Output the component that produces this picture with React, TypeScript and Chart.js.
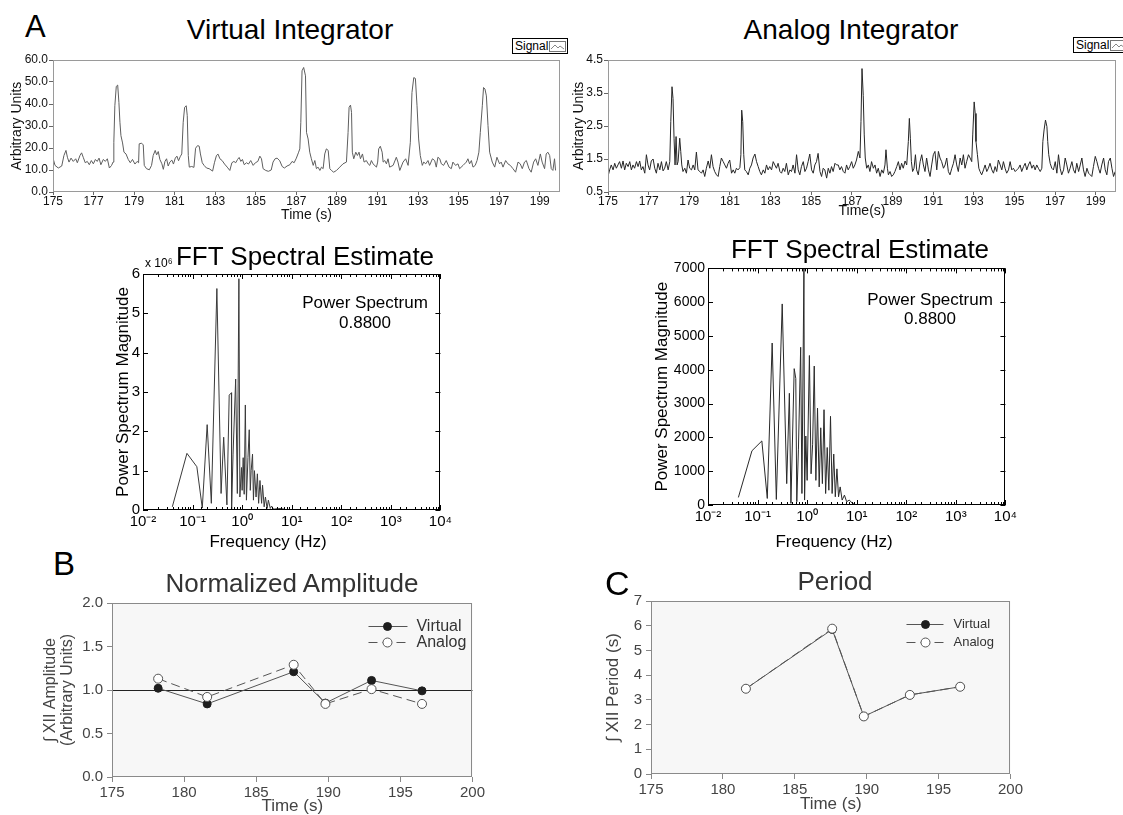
import React, { useEffect, useRef } from "react";
import { Chart, registerables } from "chart.js";
Chart.register(...registerables);

const SANS = '"Liberation Sans", Arial, Helvetica, sans-serif';
const NARROW = '"Liberation Sans Narrow", "Liberation Sans", Arial, sans-serif';
Chart.defaults.font.family = SANS;

// ---------------- DATA ----------------
const traceTicks = [175, 177, 179, 181, 183, 185, 187, 189, 191, 193, 195, 197, 199];

const virtualTime = [175.00,175.10,175.26,175.43,175.54,175.64,175.71,175.79,175.89,176.00,176.12,176.20,176.33,176.41,176.49,176.59,176.69,176.79,176.89,176.99,177.09,177.18,177.27,177.36,177.48,177.58,177.68,177.78,177.89,177.96,178.00,178.05,178.12,178.19,178.25,178.30,178.35,178.43,178.50,178.60,178.71,178.81,178.92,179.04,179.15,179.22,179.25,179.37,179.45,179.50,179.61,179.75,179.86,179.94,180.04,180.11,180.19,180.27,180.37,180.44,180.52,180.60,180.68,180.76,180.86,180.94,181.03,181.11,181.19,181.27,181.35,181.42,181.49,181.57,181.62,181.67,181.72,181.84,181.95,182.03,182.13,182.21,182.27,182.36,182.45,182.57,182.70,182.87,182.96,183.06,183.14,183.23,183.34,183.46,183.59,183.72,183.82,183.92,184.01,184.10,184.18,184.26,184.34,184.43,184.54,184.64,184.75,184.87,184.98,185.10,185.20,185.28,185.36,185.49,185.62,185.76,185.85,185.95,186.05,186.18,186.30,186.41,186.54,186.68,186.79,186.89,187.00,187.10,187.17,187.22,187.28,187.36,
187.45,187.50,187.58,187.66,187.74,187.83,187.91,187.99,188.07,188.16,188.24,188.32,188.40,188.48,188.57,188.65,188.73,188.84,188.98,189.14,189.30,189.47,189.55,189.60,189.67,189.72,189.76,189.83,189.93,190.01,190.09,190.16,190.26,190.34,190.45,190.54,190.62,190.70,190.78,190.95,191.01,191.06,191.14,191.23,191.28,191.36,191.44,191.52,191.60,191.77,191.93,192.01,192.10,192.26,192.39,192.51,192.62,192.70,192.79,192.87,192.95,193.03,193.11,193.21,193.28,193.38,193.49,193.57,193.71,193.82,193.90,193.98,194.07,194.15,194.26,194.39,194.53,194.64,194.72,194.85,194.97,195.05,195.22,195.38,195.46,195.54,195.63,195.71,195.82,195.91,196.00,196.07,196.17,196.23,196.30,196.37,196.45,196.53,196.66,196.78,196.89,197.02,197.10,197.19,197.32,197.43,197.55,197.68,197.81,197.93,198.04,198.14,198.25,198.34,198.47,198.58,198.70,198.80,198.91,199.03,199.12,199.24,199.32,199.40,199.49,199.57,199.65,199.73,199.78];
const virtualSignal = [15.4,12.1,10.9,11.8,16.6,18.9,15.8,13.6,15.4,13.9,15.1,13.3,16.6,17.8,15.8,13.3,13.9,12.4,14.3,12.8,14.8,13.9,15.4,12.4,14.8,13.9,15.1,10.9,12.1,13.6,22.6,39.2,48.0,48.6,40.7,31.7,25.6,22.3,18.1,17.3,14.8,13.3,14.8,12.7,13.9,13.3,21.9,22.2,21.4,12.1,10.6,10.1,12.1,16.6,18.9,16.9,18.4,14.8,12.8,10.3,13.9,15.1,11.8,13.6,14.5,12.7,15.4,16.3,14.2,16.0,17.3,31.7,38.5,39.2,34.7,16.6,11.3,11.6,11.2,19.9,21.1,20.8,17.3,13.3,12.1,10.9,10.6,9.5,13.3,16.6,17.2,15.1,14.3,12.7,11.3,9.8,13.3,13.9,13.3,14.8,15.7,13.9,14.8,12.4,13.3,12.7,14.3,12.1,13.3,13.9,16.3,15.1,10.6,9.8,9.4,10.0,13.6,15.1,15.4,14.2,11.6,10.9,11.8,12.4,13.9,13.3,15.4,17.8,19.6,31.7,55.1,56.6,
52.8,27.1,24.1,18.1,15.1,12.1,14.3,10.6,11.3,9.8,11.3,10.6,17.3,19.6,18.9,10.6,9.8,9.0,9.8,11.3,12.8,13.6,27.1,38.5,39.5,36.2,18.1,15.1,18.1,16.6,18.1,15.1,17.3,13.6,14.3,12.8,12.1,14.3,12.8,11.3,13.6,19.6,20.8,18.1,13.6,14.3,12.8,15.1,11.3,12.1,15.8,13.6,9.8,13.6,15.1,12.1,22.6,45.2,52.0,51.6,39.2,24.1,16.6,12.1,13.6,12.8,14.3,12.1,15.1,14.3,11.3,15.8,15.1,12.8,12.1,14.3,11.3,10.6,13.6,12.1,12.8,10.6,12.1,13.6,15.1,12.8,14.3,11.3,12.1,14.3,18.1,27.1,39.2,47.5,46.8,43.7,30.2,18.1,13.6,11.3,15.8,12.8,13.6,11.3,14.3,12.8,12.1,10.6,9.0,13.6,12.8,10.6,13.6,14.3,10.6,9.0,13.6,15.1,12.1,17.3,13.6,10.6,17.3,18.1,16.6,10.6,9.8,15.1,9.8];

const analogTime = [175.00,175.08,175.16,175.25,175.33,175.41,175.49,175.57,175.66,175.74,
175.82,175.90,175.99,176.07,176.15,176.23,176.31,176.40,176.48,176.56,
176.64,176.72,176.81,176.89,176.97,177.05,177.13,177.22,177.30,177.38,
177.46,177.55,177.63,177.71,177.79,177.87,177.96,178.04,178.09,178.15,
178.20,178.25,178.30,178.35,178.40,178.45,178.53,178.58,178.63,178.69,
178.78,178.86,178.94,179.02,179.11,179.19,179.27,179.35,179.43,179.52,
179.60,179.68,179.76,179.84,179.93,180.01,180.09,180.17,180.25,180.34,
180.42,180.50,180.58,180.67,180.75,180.83,180.91,180.99,181.08,181.16,
181.24,181.32,181.40,181.49,181.54,181.58,181.63,181.68,181.73,181.81,
181.90,181.98,182.06,182.14,182.23,182.31,182.39,182.47,182.55,182.64,
182.72,182.80,182.88,182.96,183.05,183.13,183.21,183.29,183.37,183.46,
183.54,183.62,183.70,183.78,183.87,183.95,184.03,184.11,184.20,184.28,
184.36,184.44,184.52,184.61,184.69,184.77,184.85,184.93,185.02,185.10,
185.18,185.26,185.34,185.43,185.51,185.59,185.67,185.76,185.84,185.92,
186.00,186.08,186.17,186.25,186.33,186.41,186.49,186.58,186.66,186.74,
186.82,186.90,186.99,187.07,187.15,187.23,187.32,187.40,187.45,187.50,
187.56,187.61,187.66,187.73,187.81,187.89,187.97,188.06,188.14,188.22,
188.30,188.39,188.47,188.55,188.63,188.68,188.75,188.80,188.88,188.96,
189.04,189.12,189.21,189.29,189.37,189.45,189.53,189.62,189.70,189.78,
189.83,189.88,189.93,189.99,190.06,190.13,190.19,190.27,190.36,190.44,
190.52,190.60,190.68,190.77,190.85,190.93,191.01,191.09,191.18,191.26,
191.34,191.42,191.51,191.59,191.67,191.75,191.83,191.92,192.00,192.08,
192.16,192.24,192.33,192.41,192.49,192.57,192.65,192.74,192.82,192.90,
192.95,193.02,193.07,193.11,193.18,193.25,193.31,193.39,193.48,193.56,
193.64,193.72,193.80,193.89,193.97,194.05,194.13,194.21,194.30,194.38,
194.46,194.54,194.62,194.71,194.79,194.87,194.95,195.04,195.12,195.20,
195.28,195.36,195.45,195.53,195.61,195.69,195.77,195.86,195.94,196.02,
196.10,196.18,196.27,196.35,196.40,196.46,196.53,196.60,196.64,196.69,
196.76,196.84,196.92,197.01,197.09,197.17,197.25,197.33,197.42,197.50,
197.58,197.66,197.74,197.83,197.91,197.99,198.07,198.16,198.24,198.32,
198.40,198.48,198.57,198.65,198.73,198.81,198.89,198.98,199.06,199.14,
199.22,199.30,199.39,199.47,199.55,199.63,199.72,199.80,199.88,199.96];
const analogSignal = [0.97,1.17,1.32,1.17,1.37,1.22,1.32,1.42,1.22,1.44,
1.17,1.37,1.27,1.42,1.17,1.32,1.22,1.42,1.27,1.44,
1.17,1.27,1.07,1.63,1.32,1.17,1.44,1.50,1.22,1.07,
1.37,1.17,1.42,1.14,1.22,1.42,1.17,1.42,2.63,3.69,
3.33,2.13,1.32,2.18,1.32,1.42,2.13,1.73,1.32,1.12,
1.22,1.07,1.47,1.22,1.17,1.32,1.17,1.71,1.17,1.12,
1.07,1.17,0.97,1.22,1.44,1.22,1.63,1.27,1.12,1.02,
0.97,1.27,1.53,1.42,1.32,1.22,1.37,1.47,1.07,1.17,
1.07,1.22,1.17,1.24,1.63,2.98,2.63,1.63,1.17,1.12,
1.02,1.22,1.32,1.53,1.65,1.42,1.27,1.12,1.02,1.17,
1.07,1.32,1.17,1.27,1.17,1.42,1.32,1.22,1.37,1.12,
1.07,1.22,1.12,1.37,1.02,1.17,1.12,1.32,1.07,1.63,
1.17,1.02,1.27,1.42,1.12,1.22,1.42,1.65,1.17,1.07,
1.32,1.42,1.67,1.12,0.97,1.22,1.17,0.92,1.22,1.07,
1.27,1.12,1.37,1.32,1.32,1.17,1.27,1.12,1.07,1.32,
1.17,1.27,1.42,1.22,1.32,1.47,1.73,1.53,2.63,4.24,
3.43,2.23,1.53,1.22,1.32,1.12,1.42,1.22,1.32,1.07,
1.22,0.97,1.17,1.07,1.32,1.78,1.22,1.02,1.12,0.97,
1.02,1.12,1.27,1.42,1.17,1.37,1.22,1.44,1.32,2.03,
2.73,2.13,1.42,1.12,1.22,1.63,1.17,1.02,1.42,1.63,
1.32,1.12,1.53,1.17,0.97,1.32,1.63,1.73,1.17,1.73,
1.53,1.42,1.22,1.32,1.53,1.12,1.02,1.22,1.37,1.63,
1.32,1.12,1.53,1.32,1.63,1.22,1.42,1.63,1.53,1.42,
2.23,3.23,2.88,2.03,1.63,1.22,1.12,1.02,1.17,1.32,
1.12,1.22,1.37,1.17,1.07,1.27,1.12,1.47,1.32,1.17,
1.42,1.22,1.07,1.17,1.42,1.17,1.22,1.12,1.17,1.22,
1.32,1.12,1.27,1.37,1.17,1.32,1.42,1.22,1.32,1.17,
1.32,1.22,1.12,1.22,2.03,2.38,2.68,2.48,2.03,1.63,
1.37,1.22,1.17,1.42,1.07,1.63,1.22,1.02,1.17,1.53,
1.32,1.07,1.22,1.42,1.17,1.07,1.37,1.12,1.32,1.53,
1.17,0.97,1.22,1.07,1.02,0.97,1.27,1.58,1.42,1.22,
1.07,1.32,1.53,1.17,1.02,1.42,1.53,1.22,0.97,1.12];

// FFT spectra (frequency in Hz)
const virtualSpectrumFreq = [0.039,0.077,0.122,0.157,0.197,0.239,0.309,0.376,0.424,0.493,0.548,0.608,0.612,0.656,0.74,0.80,0.86,0.90,0.97,1.00,1.05,1.10,1.16,1.22,1.31,1.39,1.46,1.52,1.62,1.69,1.77,1.91,2.03,2.15,2.29,2.47,2.58,2.78,2.95,3.19,3.38,3.70,3.93,4.30,5.50,6.60,7.60,10.3];
const virtualSpectrumMag = [0.08,1.44,1.10,0.05,2.17,0.17,5.63,0.42,1.85,0.13,2.92,2.98,0.02,1.42,3.33,0.42,5.88,0.33,1.08,0.50,1.33,0.40,2.67,0.25,1.33,2.04,0.50,1.00,1.42,0.25,1.00,0.33,0.92,0.17,0.75,0.17,0.63,0.08,0.33,0.04,0.25,0.04,0.10,0.02,0.04,0.03,0.01,0.00]; // x 10^6
const analogSpectrumFreq = [0.041,0.077,0.122,0.157,0.197,0.239,0.314,0.387,0.438,0.471,0.548,0.59,0.618,0.667,0.74,0.785,0.861,0.887,0.94,1.0,1.11,1.2,1.29,1.39,1.5,1.62,1.75,1.88,2.03,2.19,2.36,2.54,2.74,2.96,3.19,3.44,3.7,3.99,4.3,4.64,5.08,5.65,6.27,7.08,8.23,9.55];
const analogSpectrumMag = [224,1604,1895,194,4792,165,5949,632,3305,49,4034,3742,97,1652,4666,340,7000,146,2041,729,4423,923,1798,4111,729,2867,535,2284,632,2819,340,1701,437,2624,340,1507,243,1069,243,535,146,292,97,146,49,0];

// B: normalized amplitude
const amplitudeTime = [178.2, 181.6, 187.6, 189.8, 193.0, 196.5];
const amplitudeVirtual = [1.02, 0.84, 1.21, 0.85, 1.11, 0.99];
const amplitudeAnalog = [1.13, 0.92, 1.29, 0.84, 1.01, 0.84];
const amplitudeReference = 1.0;

// C: period
const periodTime = [181.6, 187.6, 189.8, 193.0, 196.5];
const periodVirtual = [3.45, 5.85, 2.33, 3.20, 3.53];
const periodAnalog = [3.45, 5.88, 2.33, 3.20, 3.53];

// ---------------- helpers ----------------
const SUP: Record<string, string> = { "-": "⁻", "0": "⁰", "1": "¹", "2": "²", "3": "³", "4": "⁴", "5": "⁵", "6": "⁶", "7": "⁷", "8": "⁸", "9": "⁹" };
const pow10Label = (v: number) => {
  const l = Math.log10(v);
  const r = Math.round(l);
  if (Math.abs(l - r) > 1e-6) return "";
  return "10" + String(r).split("").map((c) => SUP[c]).join("");
};
const pts = (xs: number[], ys: number[]) => xs.map((x, i) => ({ x, y: ys[i] }));

const panelPlugin = {
  id: "panel",
  beforeDatasetsDraw(chart: any, _a: any, o: any) {
    const { ctx, chartArea: a } = chart;
    ctx.save();
    if (o.background) {
      ctx.fillStyle = o.background;
      ctx.fillRect(a.left, a.top, a.right - a.left, a.bottom - a.top);
    }
    if (o.refValue !== undefined && o.refValue !== null) {
      const y = Math.round(chart.scales.y.getPixelForValue(o.refValue)) + 0.5;
      ctx.strokeStyle = o.refColor || "#000";
      ctx.lineWidth = 1;
      ctx.beginPath();
      ctx.moveTo(a.left, y);
      ctx.lineTo(a.right, y);
      ctx.stroke();
    }
    ctx.restore();
  },
  afterDatasetsDraw(chart: any, _a: any, o: any) {
    const { ctx, chartArea: a } = chart;
    ctx.save();
    ctx.lineWidth = 1;
    if (o.innerTicks) {
      const xs = chart.scales.x;
      const ys = chart.scales.y;
      ctx.strokeStyle = o.frameColor;
      ctx.beginPath();
      for (const t of xs.ticks) {
        const p = Math.round(xs.getPixelForValue(t.value)) + 0.5;
        const l = pow10Label(t.value) ? 5 : 3;
        ctx.moveTo(p, a.bottom);
        ctx.lineTo(p, a.bottom - l);
        ctx.moveTo(p, a.top);
        ctx.lineTo(p, a.top + l);
      }
      for (const t of ys.ticks) {
        const p = Math.round(ys.getPixelForValue(t.value)) + 0.5;
        ctx.moveTo(a.left, p);
        ctx.lineTo(a.left + 5, p);
        ctx.moveTo(a.right, p);
        ctx.lineTo(a.right - 5, p);
      }
      ctx.stroke();
    }
    if (o.frameColor) {
      ctx.strokeStyle = o.frameColor;
      ctx.strokeRect(Math.round(a.left) + 0.5, Math.round(a.top) + 0.5, Math.round(a.right - a.left) - 1, Math.round(a.bottom - a.top) - 1);
    }
    if (o.legend) {
      const lg = o.legend;
      ctx.font = `${lg.size}px ${SANS}`;
      ctx.textBaseline = "middle";
      ctx.textAlign = "left";
      chart.data.datasets.forEach((ds: any, i: number) => {
        const y = Math.round(a.top + lg.rows[i]) + 0.5;
        ctx.strokeStyle = ds.borderColor;
        ctx.setLineDash(ds.borderDash || []);
        ctx.beginPath();
        ctx.moveTo(a.right - lg.x1, y);
        ctx.lineTo(a.right - lg.x2, y);
        ctx.stroke();
        ctx.setLineDash([]);
        ctx.beginPath();
        ctx.arc(a.right - lg.mx, y, ds.pointRadius, 0, Math.PI * 2);
        ctx.fillStyle = ds.pointBackgroundColor;
        ctx.fill();
        ctx.strokeStyle = ds.pointBorderColor;
        ctx.stroke();
        ctx.fillStyle = lg.color;
        ctx.fillText(ds.label, a.right - lg.tx, y);
      });
    }
    ctx.restore();
  },
};

const common = (padding: any, panel: any) => ({
  responsive: false,
  maintainAspectRatio: false,
  animation: false,
  events: [],
  layout: { padding },
  plugins: { legend: { display: false }, tooltip: { enabled: false }, panel },
});

// ---------------- chart configs ----------------
function traceConfig(kind: "virtual" | "analog") {
  const isV = kind === "virtual";
  const data = isV ? pts(virtualTime, virtualSignal) : pts(analogTime, analogSignal);
  return {
    type: "line",
    data: {
      datasets: [
        { label: "Signal", data, borderColor: isV ? "#5e5e5e" : "#262626", borderWidth: 1, pointRadius: 0, tension: 0 },
      ],
    },
    options: {
      ...common({ left: 9, top: 10, right: 4, bottom: 0 }, { frameColor: "#9a9a9a" }),
      scales: {
        x: {
          type: "linear",
          min: 175,
          max: 200,
          afterBuildTicks: (s: any) => {
            s.ticks = traceTicks.map((v) => ({ value: v }));
          },
          afterFit: (s: any) => {
            s.height = isV ? 32 : 28;
          },
          grid: { drawOnChartArea: false, tickLength: 3, color: "#666" },
          border: { display: false },
          ticks: { font: { family: NARROW, size: 12 }, color: "#111", padding: -1, maxRotation: 0, autoSkip: false },
          title: { display: true, text: isV ? "Time (s)" : "Time(s)", font: { family: NARROW, size: 14 }, color: "#111", padding: 0 },
        },
        y: {
          type: "linear",
          min: isV ? 0 : 0.5,
          max: isV ? 60 : 4.5,
          afterFit: (s: any) => {
            s.width = isV ? 44 : 37;
          },
          grid: { drawOnChartArea: false, tickLength: 4, color: "#666" },
          border: { display: false },
          ticks: {
            stepSize: isV ? 10 : 0.5,
            padding: 1,
            font: { family: NARROW, size: 12 },
            color: "#111",
            callback: (v: any) => {
              const n = Number(v);
              if (isV) return n.toFixed(1);
              return Math.abs((n - 0.5) % 1) < 1e-6 ? n.toFixed(1) : "";
            },
          },
          title: { display: true, text: "Arbitrary Units", font: { family: NARROW, size: 14 }, color: "#111", padding: 0 },
        },
      },
    },
    plugins: [panelPlugin],
  };
}

function spectrumConfig(kind: "virtual" | "analog") {
  const isV = kind === "virtual";
  const data = isV ? pts(virtualSpectrumFreq, virtualSpectrumMag) : pts(analogSpectrumFreq, analogSpectrumMag);
  return {
    type: "line",
    data: {
      datasets: [{ label: "Power Spectrum", data, borderColor: isV ? "#3a3a3a" : "#2a2a2a", borderWidth: 1, pointRadius: 0, tension: 0 }],
    },
    options: {
      ...common(isV ? { left: 13, top: 8, right: 6, bottom: 0 } : { left: 7, top: 8, right: 6, bottom: 0 }, { frameColor: "#000", innerTicks: true }),
      scales: {
        x: {
          type: "logarithmic",
          min: 0.01,
          max: 10000,
          afterFit: (s: any) => {
            s.height = 30;
          },
          grid: { display: false, drawTicks: false },
          border: { display: false },
          ticks: { callback: (v: any) => pow10Label(Number(v)), autoSkip: false, maxRotation: 0, minRotation: 0, padding: 3, font: { size: 15 }, color: "#000" },
        },
        y: {
          type: "linear",
          min: 0,
          max: isV ? 6 : 7000,
          afterFit: (s: any) => {
            s.width = isV ? 30 : 56;
          },
          grid: { display: false, drawTicks: false },
          border: { display: false },
          ticks: { stepSize: isV ? 1 : 1000, padding: 3, font: { size: isV ? 15 : 14 }, color: "#000", callback: (v: any) => String(v) },
          title: { display: true, text: "Power Spectrum Magnitude", font: { size: 17 }, color: "#000", padding: 0 },
        },
      },
    },
    plugins: [panelPlugin],
  };
}

function comparisonConfig(kind: "amplitude" | "period") {
  const isA = kind === "amplitude";
  const vData = isA ? pts(amplitudeTime, amplitudeVirtual) : pts(periodTime, periodVirtual);
  const aData = isA ? pts(amplitudeTime, amplitudeAnalog) : pts(periodTime, periodAnalog);
  const legend = isA
    ? { size: 16, color: "#333", rows: [23, 39], x1: 104, x2: 65, mx: 85, tx: 56 }
    : { size: 13, color: "#333", rows: [23, 41], x1: 104, x2: 67, mx: 85, tx: 57 };
  return {
    type: "line",
    data: {
      datasets: [
        { label: "Virtual", data: vData, borderColor: "#555", borderWidth: 1, pointRadius: 4, pointBackgroundColor: "#1e1e1e", pointBorderColor: "#1e1e1e", pointBorderWidth: 1, tension: 0, order: 1 },
        { label: "Analog", data: aData, borderColor: "#555", borderWidth: 1, borderDash: [9, 5], pointRadius: 4.5, pointBackgroundColor: "#fff", pointBorderColor: "#555", pointBorderWidth: 1, tension: 0, order: 0 },
      ],
    },
    options: {
      ...common(
        isA ? { left: 12, top: 8, right: 5, bottom: 0 } : { left: 10, top: 8, right: 5, bottom: 0 },
        { frameColor: "#8a8a8a", background: "#f7f7f7", refValue: isA ? amplitudeReference : null, refColor: "#222", legend }
      ),
      scales: {
        x: {
          type: "linear",
          min: 175,
          max: 200,
          afterFit: (s: any) => {
            s.height = isA ? 38 : 39;
          },
          grid: { drawOnChartArea: false, tickLength: 5, color: "#888" },
          border: { display: false },
          ticks: { stepSize: 5, padding: 2, font: { size: 15 }, color: "#444", maxRotation: 0 },
          title: { display: true, text: "Time (s)", font: { size: 17, lineHeight: 1 }, color: "#444", padding: 0 },
        },
        y: {
          type: "linear",
          min: 0,
          max: isA ? 2 : 7,
          afterFit: (s: any) => {
            s.width = isA ? 70 : 46;
          },
          grid: { drawOnChartArea: false, tickLength: 5, color: "#888" },
          border: { display: false },
          ticks: {
            stepSize: isA ? 0.5 : 1,
            padding: 4,
            font: { size: 15 },
            color: "#444",
            callback: (v: any) => (isA ? Number(v).toFixed(1) : String(v)),
          },
          title: {
            display: true,
            text: isA ? ["∫ XII Amplitude", "(Arbitrary Units)"] : "∫ XII Period (s)",
            font: isA ? { size: 16, lineHeight: 1.05 } : { size: 17, lineHeight: 1 },
            color: "#444",
            padding: 0,
          },
        },
      },
    },
    plugins: [panelPlugin],
  };
}

// ---------------- components ----------------
type Box = { left: number; top: number; width: number; height: number };

function ChartCanvas({ box, make }: { box: Box; make: () => any }) {
  const ref = useRef<HTMLCanvasElement>(null);
  useEffect(() => {
    const chart = new Chart(ref.current as HTMLCanvasElement, make());
    return () => chart.destroy();
  }, []);
  return (
    <canvas
      ref={ref}
      width={box.width}
      height={box.height}
      style={{ position: "absolute", left: box.left, top: box.top, width: box.width, height: box.height }}
    />
  );
}

function Label({ x, y, size, children, align = "center", color = "#000", family = SANS }: any) {
  return (
    <div
      style={{
        position: "absolute",
        left: x,
        top: y - 0.847 * size,
        fontSize: size,
        lineHeight: 1,
        fontFamily: family,
        color,
        whiteSpace: "nowrap",
        transform: align === "center" ? "translateX(-50%)" : undefined,
      }}
    >
      {children}
    </div>
  );
}

function SignalBox({ x, y }: { x: number; y: number }) {
  return (
    <div
      style={{
        position: "absolute",
        left: x,
        top: y,
        height: 14,
        border: "1px solid #000",
        background: "#fff",
        display: "flex",
        alignItems: "center",
        padding: "0 1px 0 2px",
        fontFamily: NARROW,
        fontSize: 12,
        lineHeight: 1,
        whiteSpace: "nowrap",
      }}
    >
      <span>Signal</span>
      <svg width="17" height="11" style={{ marginLeft: 1 }}>
        <rect x="0.5" y="0.5" width="16" height="10" fill="#fff" stroke="#777" />
        <polyline points="2,8 6,4 9,7 11,5 15,8" fill="none" stroke="#888" />
      </svg>
    </div>
  );
}

export default function App() {
  useEffect(() => {
    document.body.style.margin = "0";
  }, []);
  return (
    <div style={{ position: "absolute", left: 0, top: 0, width: 1123, height: 815, overflow: "hidden", background: "#fff", fontFamily: SANS, color: "#000" }}>
      <ChartCanvas box={{ left: 0, top: 50, width: 564, height: 174 }} make={() => traceConfig("virtual")} />
      <ChartCanvas box={{ left: 562, top: 50, width: 558, height: 170 }} make={() => traceConfig("analog")} />
      <ChartCanvas box={{ left: 100, top: 262, width: 355, height: 278 }} make={() => spectrumConfig("virtual")} />
      <ChartCanvas box={{ left: 645, top: 257, width: 375, height: 278 }} make={() => spectrumConfig("analog")} />
      <ChartCanvas box={{ left: 30, top: 590, width: 457, height: 225 }} make={() => comparisonConfig("amplitude")} />
      <ChartCanvas box={{ left: 595, top: 588, width: 430, height: 225 }} make={() => comparisonConfig("period")} />

      <Label x={25} y={37} size={31} align="left">A</Label>
      <Label x={290} y={40} size={28}>Virtual Integrator</Label>
      <Label x={851} y={40} size={28}>Analog Integrator</Label>
      <SignalBox x={512} y={38} />
      <SignalBox x={1073} y={37} />

      <Label x={145} y={267} size={12} align="left">x 10⁶</Label>
      <Label x={305} y={265} size={26}>FFT Spectral Estimate</Label>
      <Label x={860} y={258} size={26}>FFT Spectral Estimate</Label>
      <Label x={365} y={308} size={17}>Power Spectrum</Label>
      <Label x={365} y={328} size={17}>0.8800</Label>
      <Label x={930} y={305} size={17}>Power Spectrum</Label>
      <Label x={930} y={324} size={17}>0.8800</Label>
      <Label x={268} y={547} size={17}>Frequency (Hz)</Label>
      <Label x={834} y={547} size={17}>Frequency (Hz)</Label>

      <Label x={53} y={575} size={33} align="left">B</Label>
      <Label x={292} y={592} size={26} color="#333">Normalized Amplitude</Label>
      <Label x={605} y={595} size={34} align="left">C</Label>
      <Label x={835} y={590} size={26} color="#333">Period</Label>
    </div>
  );
}
